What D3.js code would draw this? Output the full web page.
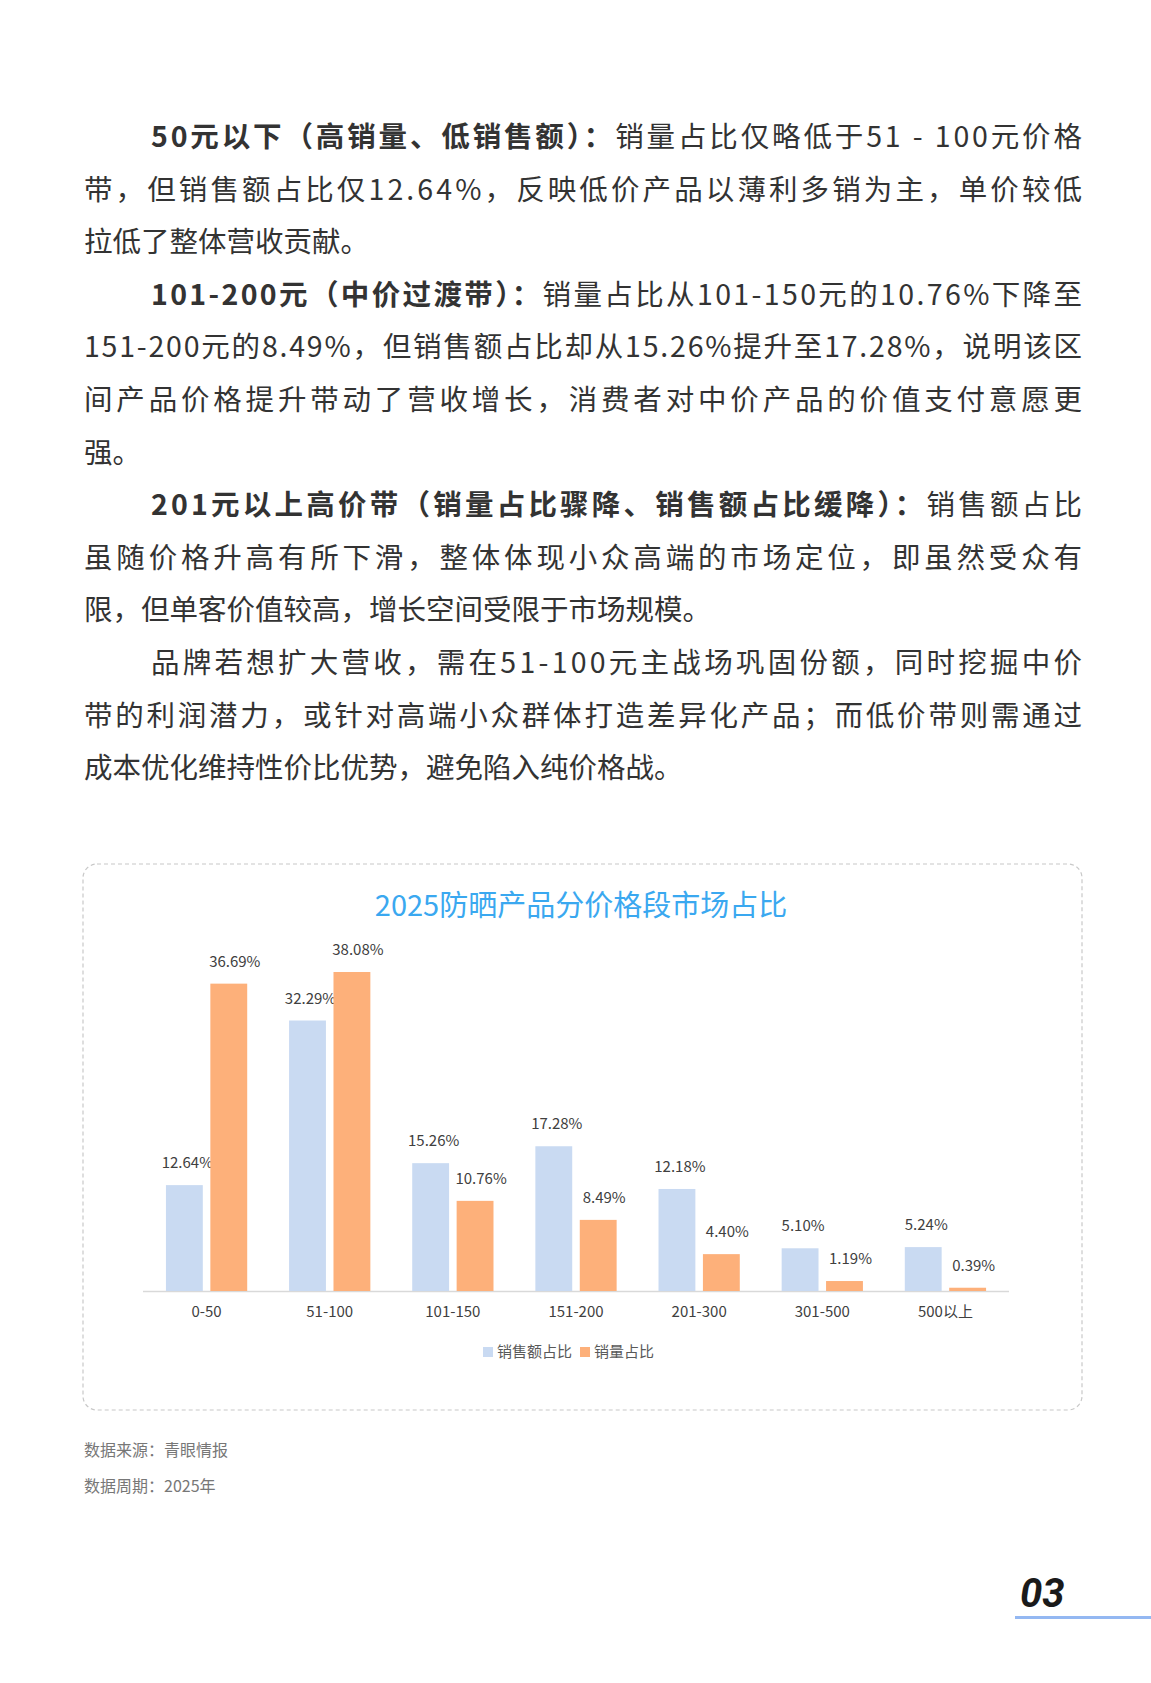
<!DOCTYPE html>
<html><head><meta charset="utf-8">
<script src="https://cdn.jsdelivr.net/npm/d3@7"></script>
<style>body{margin:0;background:#fff}svg{display:block;font-family:"Noto Sans CJK SC","Noto Sans",sans-serif}</style>
</head><body><svg id="c" width="1151" height="1683"></svg>
<script>
const categories=["0-50","51-100","101-150","151-200","201-300","301-500","500以上"];
const salesShare=[12.64,32.29,15.26,17.28,12.18,5.10,5.24];
const volumeShare=[36.69,38.08,10.76,8.49,4.40,1.19,0.39];
const seriesNames=["销售额占比","销量占比"];
const colors=["#c9daf2","#fdb07a"];
const paragraphs=[
 [["50元以下（高销量、低销售额）：",1],["销量占比仅略低于51 - 100元价格",0]],
 [["带，但销售额占比仅12.64%，反映低价产品以薄利多销为主，单价较低",0]],
 [["拉低了整体营收贡献。",0,"end"]],
 [["101-200元（中价过渡带）：",1],["销量占比从101-150元的10.76%下降至",0]],
 [["151-200元的8.49%，但销售额占比却从15.26%提升至17.28%，说明该区",0]],
 [["间产品价格提升带动了营收增长，消费者对中价产品的价值支付意愿更",0]],
 [["强。",0,"end"]],
 [["201元以上高价带（销量占比骤降、销售额占比缓降）：",1],["销售额占比",0]],
 [["虽随价格升高有所下滑，整体体现小众高端的市场定位，即虽然受众有",0]],
 [["限，但单客价值较高，增长空间受限于市场规模。",0,"end"]],
 [["品牌若想扩大营收，需在51-100元主战场巩固份额，同时挖掘中价",0]],
 [["带的利润潜力，或针对高端小众群体打造差异化产品；而低价带则需通过",0]],
 [["成本优化维持性价比优势，避免陷入纯价格战。",0,"end"]]
];
const indentLines=[0,3,7,10];
const svg=d3.select("#c");
// paragraphs
paragraphs.forEach((segs,i)=>{
  const x0=indentLines.includes(i)?151:84, y=147+i*52.6;
  const last=segs[segs.length-1][2]==="end";
  const t=svg.append("text").attr("x",x0).attr("y",y).attr("font-size",28.5).attr("fill","#333");
  if(!last){t.attr("textLength",1082-x0).attr("lengthAdjust","spacing");}
  segs.forEach(s=>t.append("tspan").attr("font-weight",s[1]?700:400).text(s[0]));
});
// box
svg.append("rect").attr("x",83).attr("y",864).attr("width",999).attr("height",546).attr("rx",14)
  .attr("fill","none").attr("stroke","#c8c8c8").attr("stroke-dasharray","4,3").attr("stroke-width",1.2);
svg.append("text").attr("x",581).attr("y",916).attr("text-anchor","middle").attr("font-size",29).attr("fill","#3aa8f0").text("2025防晒产品分价格段市场占比");
const x=d3.scaleBand().domain(categories).range([145,1007]).paddingInner(0.34).paddingOuter(0.17);
const x1=d3.scaleBand().domain([0,1]).range([0,x.bandwidth()]).paddingInner(0.17);
const y=d3.scaleLinear().domain([0,38.08]).range([1291,972]);
svg.append("line").attr("x1",143).attr("x2",1009).attr("y1",1291.5).attr("y2",1291.5).attr("stroke","#d9d9d9").attr("stroke-width",1.5);
[salesShare,volumeShare].forEach((arr,s)=>{
  const g=svg.append("g");
  g.selectAll("rect").data(arr).join("rect")
   .attr("x",(d,i)=>x(categories[i])+x1(s)).attr("width",x1.bandwidth())
   .attr("y",d=>y(d)).attr("height",d=>y(0)-y(d)).attr("fill",colors[s]);
  g.selectAll("text").data(arr).join("text")
   .attr("x",(d,i)=>x(categories[i])+x1(s)+x1.bandwidth()/2+(s===0?3:6))
   .attr("y",d=>y(d)-17).attr("text-anchor","middle").attr("font-size",15).attr("fill","#404040")
   .text(d=>d.toFixed(2)+"%");
});
const ax=svg.append("g").attr("transform","translate(0,1291)").call(d3.axisBottom(x).tickSize(0).tickPadding(15));
ax.select(".domain").remove();
ax.selectAll("text").attr("font-size",15).attr("fill","#404040").attr("font-family","Noto Sans CJK SC");
// legend
const lg=svg.append("g").attr("transform","translate(483,1353)");
let lx=0;
seriesNames.forEach((n,i)=>{
  lg.append("rect").attr("x",lx).attr("y",-6).attr("width",10).attr("height",10).attr("fill",colors[i]);
  const t=lg.append("text").attr("x",lx+14).attr("y",4).attr("font-size",15).attr("fill","#595959").text(n);
  lx+=t.node().getComputedTextLength()+22;
});
// footer
svg.append("text").attr("x",84).attr("y",1456).attr("font-size",16).attr("fill","#777").text("数据来源：青眼情报");
svg.append("text").attr("x",84).attr("y",1492).attr("font-size",16).attr("fill","#777").text("数据周期：2025年");
svg.append("text").attr("x",1020).attr("y",1607).attr("font-size",40).attr("font-weight",700).attr("font-style","italic").attr("fill","#1a1a1a").attr("font-family","Roboto").text("03");
svg.append("rect").attr("x",1015).attr("y",1616).attr("width",136).attr("height",3).attr("fill","#94b8f2");
</script></body></html>
